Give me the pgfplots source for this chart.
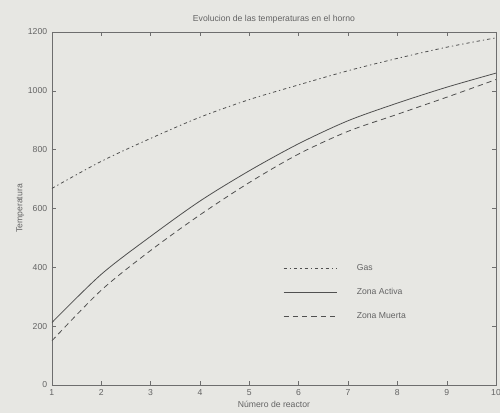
\documentclass[border=0pt]{standalone}
\usepackage{fontspec}
\setmainfont{Liberation Sans}
\usepackage{pgfplots}
\pgfplotsset{compat=1.18}
\usetikzlibrary{backgrounds}
\definecolor{bg}{RGB}{231,231,227}
\definecolor{ln}{RGB}{80,80,80}
\definecolor{tx}{RGB}{100,100,100}
\definecolor{ax}{RGB}{110,110,110}
\begin{document}
\begin{tikzpicture}
\begin{axis}[
  scale only axis, width=334pt, height=265.5pt,
  xmin=1, xmax=10, ymin=0, ymax=1200,
  xtick={1,...,10}, ytick={0,200,...,1200},
  tick align=inside, tick pos=both, major tick length=3pt,
  axis line style={ax}, tick style={ax},
  every tick label/.append style={font=\fontsize{6.5}{7}\selectfont, text=tx},
  /pgf/number format/assume math mode=true,
  /pgf/number format/1000 sep={},
  title={Evolucion de las temperaturas en el horno},
  title style={font=\fontsize{6.5}{7}\selectfont, text=tx, yshift=-3pt},
  xlabel={Número de reactor}, ylabel={Temperatura},
  xlabel style={font=\fontsize{6.5}{7}\selectfont, text=tx, yshift=3pt},
  ylabel style={font=\fontsize{6.5}{7}\selectfont, text=tx, yshift=-4pt},
  legend style={draw=none, fill=none, at={(axis cs:5.6,200)}, anchor=south west,
    font=\fontsize{6.5}{7}\selectfont, text=tx, row sep=8pt},
  legend cell align=left,
  legend image code/.code={\draw[#1] (0cm,0cm) -- (1.4cm,0cm);},
]
\addplot[ln, line width=0.6pt, smooth, dash pattern=on 2.5pt off 2.2pt on 1pt off 2.2pt] coordinates {
(1,668) (2,760) (3,838) (4,910) (5,970) (6,1020) (7,1068) (8,1110) (9,1148) (10,1180)};
\addlegendentry{\hspace{13pt}Gas}
\addplot[ln, line width=0.6pt, smooth] coordinates {
(1,212) (2,376) (3,505) (4,625) (5,728) (6,820) (7,898) (8,958) (9,1012) (10,1060)};
\addlegendentry{\hspace{13pt}Zona Activa}
\addplot[ln, line width=0.6pt, smooth, dash pattern=on 4pt off 3pt] coordinates {
(1,150) (2,322) (3,457) (4,578) (5,688) (6,785) (7,862) (8,920) (9,978) (10,1038)};
\addlegendentry{\hspace{13pt}Zona Muerta}
\end{axis}
\pgfresetboundingbox
\path[use as bounding box] (current axis.south west)++(-39pt,-21pt) coordinate (bbsw) rectangle ([xshift=3pt,yshift=24pt]current axis.north east) coordinate (bbne);
\begin{pgfonlayer}{background}
\fill[bg] (bbsw) rectangle (bbne);
\end{pgfonlayer}
\end{tikzpicture}
\end{document}
